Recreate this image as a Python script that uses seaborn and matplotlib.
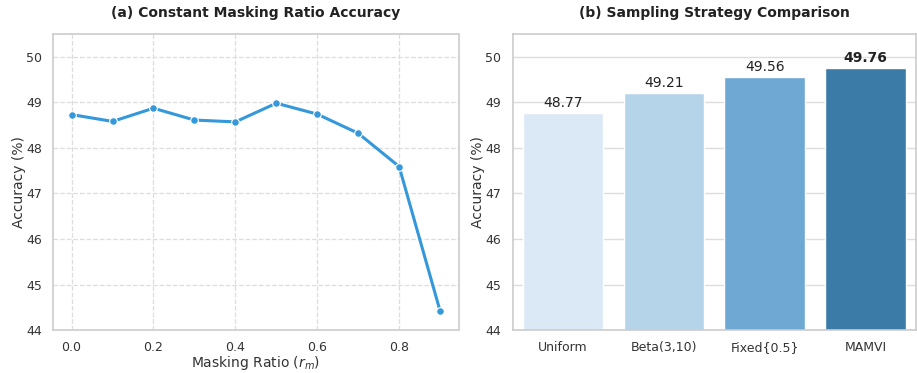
import matplotlib
matplotlib.use("Agg")
import matplotlib.pyplot as plt
import seaborn as sns
import pandas as pd

ratios = [0.0, 0.1, 0.2, 0.3, 0.4, 0.5, 0.6, 0.7, 0.8, 0.9]
ratio_acc = [48.73, 48.58, 48.87, 48.61, 48.57, 48.98, 48.74, 48.32, 47.59, 44.42]

strategies = ["Uniform", "Beta(3,10)", "Fixed{0.5}", "MAMVI"]
strategy_acc = [48.77, 49.21, 49.56, 49.76]
bar_colors = ["#dbe9f6", "#b6d4e9", "#6fa9d3", "#3b7ba7"]

sns.set_theme(style="whitegrid")
plt.rcParams['font.family'] = ['DejaVu Sans']

fig = plt.figure(figsize=(9.17, 3.73), dpi=100)
ax1 = fig.add_axes([0.058, 0.115, 0.442, 0.794])
ax2 = fig.add_axes([0.559, 0.115, 0.440, 0.794])

df1 = pd.DataFrame({"ratio": ratios, "acc": ratio_acc})
sns.lineplot(data=df1, x="ratio", y="acc", ax=ax1, color="#3498db", linewidth=2.2,
             marker="o", markersize=5.5, markeredgecolor="white", markeredgewidth=0.8)
ax1.set_ylim(44, 50.5)
ax1.set_xticks([0.0, 0.2, 0.4, 0.6, 0.8])
ax1.set_yticks([44, 45, 46, 47, 48, 49, 50])
ax1.grid(True, linestyle="--", color="#dddddd", linewidth=0.9)
ax1.set_xlabel("Masking Ratio ($r_m$)", fontsize=10, color="#333333", labelpad=0)
ax1.set_ylabel("Accuracy (%)", fontsize=10, color="#333333", labelpad=0)
ax1.set_title("(a) Constant Masking Ratio Accuracy", fontsize=10, fontweight="bold", pad=12, color="#222222")

df2 = pd.DataFrame({"strategy": strategies, "acc": strategy_acc})
sns.barplot(data=df2, x="strategy", y="acc", hue="strategy", palette=bar_colors,
            saturation=1, legend=False, ax=ax2, width=0.8, edgecolor="white", linewidth=1)
ax2.set_ylim(44, 50.5)
ax2.set_yticks([44, 45, 46, 47, 48, 49, 50])
ax2.grid(True, axis="y", color="#dddddd", linewidth=1)
ax2.grid(False, axis="x")
ax2.set_xlabel("")
ax2.set_ylabel("Accuracy (%)", fontsize=10, color="#333333", labelpad=0)
ax2.set_title("(b) Sampling Strategy Comparison", fontsize=10, fontweight="bold", pad=12, color="#222222")
for i, v in enumerate(strategy_acc):
    ax2.text(i, v + 0.05, f"{v:.2f}", ha="center", va="bottom", fontsize=10,
             fontweight="bold" if i == len(strategy_acc) - 1 else "normal", color="#222222")

for ax in (ax1, ax2):
    ax.tick_params(labelsize=9, colors="#333333", pad=2)
    for s in ax.spines.values():
        s.set_color("#cccccc")
        s.set_linewidth(1.2)

fig.savefig("out.png", dpi=100)
